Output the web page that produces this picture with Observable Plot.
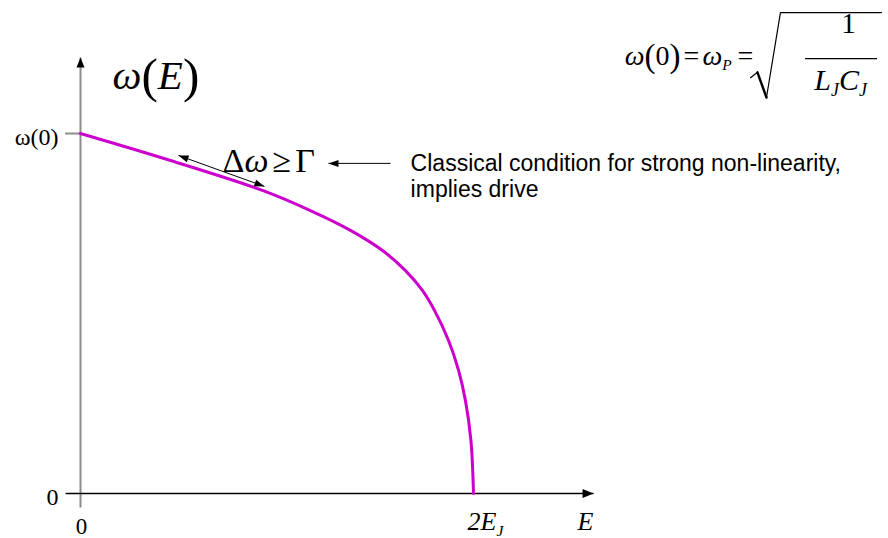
<!DOCTYPE html>
<html>
<head>
<meta charset="utf-8">
<script src="https://cdn.jsdelivr.net/npm/d3@7"></script>
<script src="https://cdn.jsdelivr.net/npm/@observablehq/plot@0.6"></script>
<style>
  html, body { margin: 0; padding: 0; background: #fff; }
  #chart svg { display: block; }
</style>
</head>
<body>
<div id="chart"></div>
<script>
// Oscillation frequency ω versus energy E, in units of ω(0) and E_J.
const energy = [0, 0.458, 0.926, 1.170, 1.374, 1.537, 1.654, 1.740, 1.802, 1.873, 1.924, 1.959, 1.987, 2.0];
const omega  = [1, 0.925, 0.842, 0.786, 0.731, 0.675, 0.619, 0.564, 0.508, 0.425, 0.342, 0.258, 0.147, 0.0];

// Axis ticks and their labels
const yTicks = [0, 1];
const yTickLabels = ["0", "ω(0)"];
const xTicks = [0, 2];
const xTickLabels = ["0", "2E_J"];
const xAxisLabel = "E";
const yAxisLabel = "ω(E)";

// Annotations
const conditionFormula = "Δω ≥ Γ";
const conditionNote = "Classical condition for strong non-linearity,\nimplies drive";
const plasmaFormula = "ω(0) = ω_P =";
const fractionTop = "1";
const fractionBottom = "L_J C_J";

// Layout of axes and annotations, in data units
const axisX = {from: -0.076, to: 2.611};
const axisY = {from: -0.039, to: 1.211};
const swingArrow = {x1: 0.499, y1: 0.939, x2: 0.936, y2: 0.853};
const pointerArrow = {x1: 1.578, x2: 1.262, y: 0.917};
const radicalPts = [[3.410, 1.155], [3.445, 1.170], [3.491, 1.100], [3.562, 1.336], [4.076, 1.336]];
const radicalStem = [[3.445, 1.170], [3.491, 1.100]];

const table = energy.map((e, i) => ({E: e, w: omega[i]}));
const serif = "Liberation Serif, Times New Roman, serif";
const sans = "Liberation Sans, Arial, sans-serif";

// Rich markup for the mathematical labels
const rich = new Map([
  ["ω(E)", `<tspan font-style="italic">ω</tspan><tspan font-size="1.2em" dy="3">(</tspan><tspan font-style="italic" dy="-3">E</tspan><tspan font-size="1.2em" dy="3">)</tspan>`],
  ["Δω ≥ Γ", `Δ<tspan font-style="italic">ω</tspan><tspan dx="4">≥</tspan><tspan dx="4">Γ</tspan>`],
  ["ω(0) = ω_P =", `<tspan font-style="italic">ω</tspan><tspan font-size="1.18em" dy="2">(</tspan><tspan dy="-2">0</tspan><tspan font-size="1.18em" dy="2">)</tspan><tspan dx="3" dy="-2">=</tspan><tspan dx="3" font-style="italic">ω</tspan><tspan font-style="italic" font-size="0.55em" dy="5">P</tspan><tspan dx="6" dy="-5">=</tspan>`],
  ["L_J C_J", `<tspan font-style="italic">L</tspan><tspan font-style="italic" font-size="0.6em" dy="6">J</tspan><tspan font-style="italic" dy="-6">C</tspan><tspan font-style="italic" font-size="0.6em" dy="6">J</tspan>`],
  ["2E_J", `<tspan font-style="italic">2E</tspan><tspan font-style="italic" font-size="0.6em" dy="6">J</tspan>`]
]);

// Filled triangular arrowhead
function head(len, half) {
  return () => {
    const m = d3.create("svg:marker")
      .attr("viewBox", `${-len} ${-half} ${len} ${2 * half}`)
      .attr("markerWidth", len)
      .attr("markerHeight", 2 * half)
      .attr("markerUnits", "userSpaceOnUse")
      .attr("orient", "auto-start-reverse")
      .attr("refX", 0)
      .attr("refY", 0)
      .attr("overflow", "visible");
    m.append("path").attr("d", `M${-len},${-half}L0,0L${-len},${half}Z`).attr("fill", "#000").attr("stroke", "none");
    return m.node();
  };
}

const chart = Plot.plot({
  width: 888,
  height: 538,
  marginLeft: 80,
  marginRight: 415,
  marginTop: 133,
  marginBottom: 45,
  x: {domain: [0, 2], axis: null},
  y: {domain: [0, 1], axis: null},
  style: {background: "#fff", overflow: "visible"},
  marks: [
    // axes
    Plot.link([0], {x1: 0, x2: 0, y1: axisY.from, y2: axisY.to, stroke: "#8c8c8c", strokeWidth: 2, markerEnd: head(10, 4)}),
    Plot.link([0], {x1: axisX.from, x2: axisX.to, y1: 0, y2: 0, stroke: "#000", strokeWidth: 1.4, markerEnd: head(11, 4.5)}),
    Plot.ruleY(yTicks.filter(d => d > 0), {x1: axisX.from, x2: 0, stroke: "#8c8c8c", strokeWidth: 2}),
    // tick labels
    Plot.text(yTicks, {x: axisX.from, y: d => d, text: (d, i) => yTickLabels[i], textAnchor: "end", lineAnchor: "bottom", dx: -7, dy: 11, fontFamily: serif, fontSize: 24, fill: "#000"}),
    Plot.text([xTicks[0]], {x: d => d, y: 0, text: [xTickLabels[0]], textAnchor: "middle", lineAnchor: "bottom", dx: 1, dy: 40, fontFamily: serif, fontSize: 23, fill: "#000"}),
    Plot.text([xTicks[1]], {x: d => d, y: 0, text: [xTickLabels[1]], textAnchor: "start", lineAnchor: "bottom", dx: -6, dy: 36, fontFamily: serif, fontSize: 26, fill: "#000"}),
    Plot.text([xAxisLabel], {x: 2.57, y: 0, text: d => d, textAnchor: "middle", lineAnchor: "bottom", dy: 36, fontFamily: serif, fontStyle: "italic", fontSize: 26, fill: "#000"}),
    Plot.text([yAxisLabel], {x: 0.163, y: 1.125, text: d => d, textAnchor: "start", lineAnchor: "bottom", fontFamily: serif, fontSize: 41, fill: "#000"}),
    // the curve
    Plot.line(table, {x: "E", y: "w", stroke: "#cc00cc", strokeWidth: 3, curve: "catmull-rom"}),
    // annotations
    Plot.link([swingArrow], {x1: "x1", y1: "y1", x2: "x2", y2: "y2", stroke: "#000", strokeWidth: 1, markerStart: head(10, 3.5), markerEnd: head(10, 3.5)}),
    Plot.text([conditionFormula], {x: 0.723, y: 0.892, text: d => d, textAnchor: "start", lineAnchor: "bottom", fontFamily: serif, fontSize: 34, fill: "#000"}),
    Plot.link([pointerArrow], {x1: "x1", x2: "x2", y1: "y", y2: "y", stroke: "#000", strokeWidth: 1, markerEnd: head(10, 3.5)}),
    Plot.text([conditionNote], {x: 1.68, y: 0.948, text: d => d, textAnchor: "start", lineAnchor: "top", lineHeight: 1.15, fontFamily: sans, fontSize: 23, fill: "#000"}),
    // ω(0) = ω_P = sqrt(1 / (L_J C_J))
    Plot.text([plasmaFormula], {x: 2.77, y: 1.189, text: d => d, textAnchor: "start", lineAnchor: "bottom", fontFamily: serif, fontSize: 28, fill: "#000"}),
    Plot.line(radicalPts, {x: d => d[0], y: d => d[1], stroke: "#000", strokeWidth: 1.2}),
    Plot.line(radicalStem, {x: d => d[0], y: d => d[1], stroke: "#000", strokeWidth: 2.4}),
    Plot.ruleY([1.208], {x1: 3.69, x2: 4.056, stroke: "#000", strokeWidth: 1.2}),
    Plot.text([fractionTop], {x: 3.908, y: 1.278, text: d => d, textAnchor: "middle", lineAnchor: "bottom", fontFamily: serif, fontSize: 29, fill: "#000"}),
    Plot.text([fractionBottom], {x: 3.868, y: 1.122, text: d => d, textAnchor: "middle", lineAnchor: "bottom", fontFamily: serif, fontSize: 30, fill: "#000"})
  ]
});

// Typeset the mathematical labels with italics and subscripts
d3.select(chart).selectAll("text").each(function () {
  const m = rich.get(this.textContent);
  if (m) this.innerHTML = m;
});

document.getElementById("chart").appendChild(chart);
</script>
</body>
</html>
